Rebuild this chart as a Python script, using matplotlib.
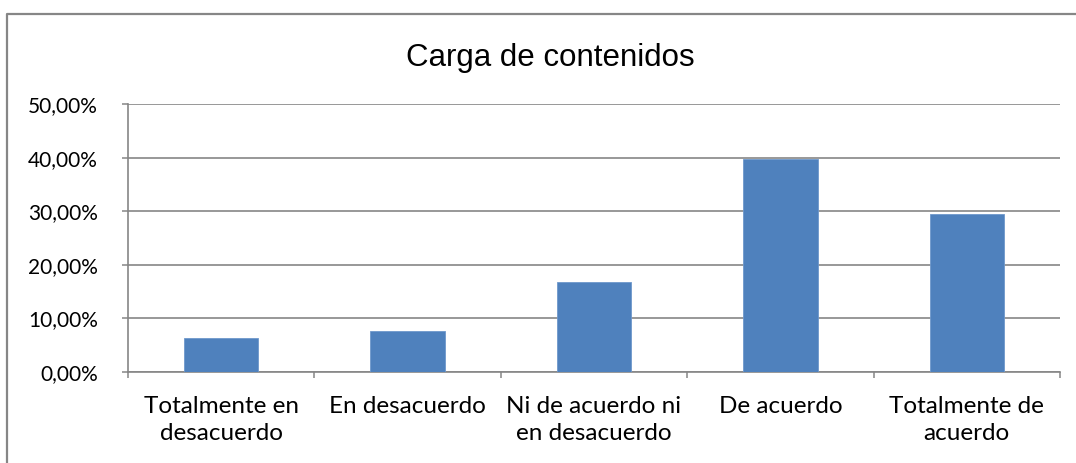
import matplotlib
matplotlib.use("Agg")
import matplotlib.pyplot as plt
from matplotlib.lines import Line2D
from matplotlib.ticker import FixedLocator

# datos
categorias = ["Totalmente en\ndesacuerdo", "En desacuerdo", "Ni de acuerdo ni\nen desacuerdo",
              "De acuerdo", "Totalmente de\nacuerdo"]
porcentajes = [0.0636, 0.0773, 0.167, 0.397, 0.295]
ticks_y = [0.0, 0.1, 0.2, 0.3, 0.4, 0.5]
etiquetas_y = ["0,00%", "10,00%", "20,00%", "30,00%", "40,00%", "50,00%"]
titulo = "Carga de contenidos"

W, H = 1076, 463
GRIS = "#868686"
AZUL = "#4F81BD"

fig = plt.figure(figsize=(W / 100, H / 100), dpi=100)
ax = fig.add_axes([128 / W, (H - 372) / H, (1060 - 128) / W, (372 - 104) / H])

x = list(range(len(categorias)))
ax.bar(x, porcentajes, width=0.4, color=AZUL, edgecolor="#6f98cc", linewidth=0.6, zorder=3)

ax.set_xlim(-0.5, len(categorias) - 0.5)
ax.set_ylim(0, 0.5)
ax.set_yticks(ticks_y)
ax.set_yticklabels(etiquetas_y, family="Lato", fontsize=15)
ax.yaxis.grid(True, color=GRIS, linewidth=1.2, zorder=0)
ax.set_axisbelow(True)

ax.set_xticks(x)
ax.set_xticklabels(categorias, family="Lato", fontsize=17.5, linespacing=1.35)
ax.xaxis.set_minor_locator(FixedLocator([i - 0.5 for i in range(len(categorias) + 1)]))
ax.tick_params(axis="x", which="major", length=0, pad=17)
ax.tick_params(axis="x", which="minor", length=4.5, color=GRIS, width=1.1)
ax.tick_params(axis="y", length=4.5, color=GRIS, width=1.1, pad=17)

for lado in ["top", "right"]:
    ax.spines[lado].set_visible(False)
for lado in ["left", "bottom"]:
    ax.spines[lado].set_color(GRIS)
    ax.spines[lado].set_linewidth(1.2)

fig.text(550 / W, (H - 66) / H, titulo, ha="center", va="baseline",
         family="Liberation Sans", fontsize=22.5)

# borde del área del gráfico (recortado a derecha y abajo)
fig.add_artist(Line2D([7 / W, 7 / W, 1.0], [0.0, (H - 14) / H, (H - 14) / H],
                      transform=fig.transFigure, color=GRIS, linewidth=1.6))

fig.savefig("out.png", dpi=100)
